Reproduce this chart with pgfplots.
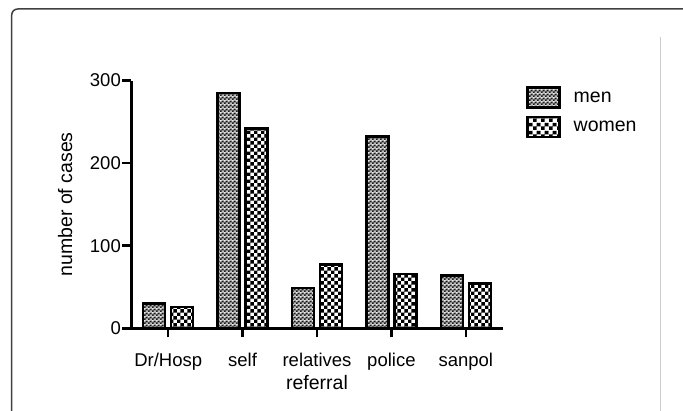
\documentclass[border=0pt]{standalone}
\usepackage{pgfplots}
\pgfplotsset{compat=1.18}
\usetikzlibrary{patterns}
\usepackage{fontspec}
\setmainfont{Liberation Sans}

% fine checker for men, coarse checker for women
\pgfdeclarepatterninherentlycolored{menpat}{\pgfpointorigin}{\pgfqpoint{3.6bp}{3.6bp}}{\pgfqpoint{3.6bp}{3.6bp}}{%
  \pgfsetfillcolor{white!75!black}\pgfpathrectangle{\pgfpointorigin}{\pgfqpoint{3.6bp}{3.6bp}}\pgfusepath{fill}%
  \pgfsetfillcolor{black!90}%
  \pgfpathrectangle{\pgfpointorigin}{\pgfqpoint{1.8bp}{1.8bp}}%
  \pgfpathrectangle{\pgfqpoint{1.8bp}{1.8bp}}{\pgfqpoint{1.8bp}{1.8bp}}\pgfusepath{fill}}
\pgfdeclarepatterninherentlycolored{womenpat}{\pgfpointorigin}{\pgfqpoint{7.4bp}{7.4bp}}{\pgfqpoint{7.4bp}{7.4bp}}{%
  \pgfsetfillcolor{white}\pgfpathrectangle{\pgfpointorigin}{\pgfqpoint{7.4bp}{7.4bp}}\pgfusepath{fill}%
  \pgfsetfillcolor{black}%
  \pgfpathrectangle{\pgfpointorigin}{\pgfqpoint{3.7bp}{3.7bp}}%
  \pgfpathrectangle{\pgfqpoint{3.7bp}{3.7bp}}{\pgfqpoint{3.7bp}{3.7bp}}\pgfusepath{fill}}

\begin{document}
\begin{tikzpicture}
\path[use as bounding box] (0,0) rectangle (683bp,411bp);
\draw[line width=1.5bp, black!75, rounded corners=6bp] (11.7bp,-5bp) |- (690bp,402bp);
\draw[line width=0.8bp, black!20] (660.7bp,374.3bp) -- (660.7bp,-5bp);
\begin{axis}[
  at={(131bp,82.7bp)}, anchor=south west,
  scale only axis,
  width=372bp, height=247.8bp,
  ybar, bar width=22bp,
  xmin=-0.5, xmax=4.5,
  ymin=0, ymax=300,
  xtick={0,...,4},
  xticklabels={Dr/Hosp,self,relatives,police,sanpol},
  ytick={0,100,200,300},
  axis lines=left,
  axis line style={-, line width=3bp},
  tick align=outside,
  major tick length=9bp,
  tick style={line width=2.5bp, black},
  /pgf/number format/assume math mode=true,
  tick label style={font=\fontsize{18.5bp}{21bp}\selectfont},
  yticklabel style={anchor=east, inner sep=0pt, xshift=-1bp},
  xticklabel style={anchor=base, inner sep=0pt, yshift=-29bp},
  xlabel={referral},
  ylabel={number of cases},
  every axis x label/.style={at={(axis description cs:0.5,-0.245)}, anchor=base,
    font=\fontsize{19.5bp}{22bp}\selectfont},
  every axis y label/.style={at={(axis description cs:-0.177,0.5)}, rotate=90, anchor=center,
    font=\fontsize{19.5bp}{22bp}\selectfont},
  legend image code/.code={\draw[#1, line width=2.5bp] (0bp,-10bp) rectangle (32bp,10bp);},
  legend style={at={(1.0618,0.977)}, anchor=north west, draw=none, fill=none,
    font=\fontsize{19.5bp}{22bp}\selectfont, row sep=7bp, column sep=13bp,
    inner sep=0pt, nodes={inner sep=0pt}},
  legend cell align=left,
]
\addplot[draw=black, line width=2.5bp, pattern=menpat, bar shift=-14bp]
  coordinates {(0,30) (1,285) (2,49) (3,232) (4,64)};
\addplot[draw=black, line width=2.5bp, pattern=womenpat, bar shift=14bp]
  coordinates {(0,26) (1,242) (2,77) (3,66) (4,54)};
\legend{men, women}
\end{axis}
\end{tikzpicture}
\end{document}
